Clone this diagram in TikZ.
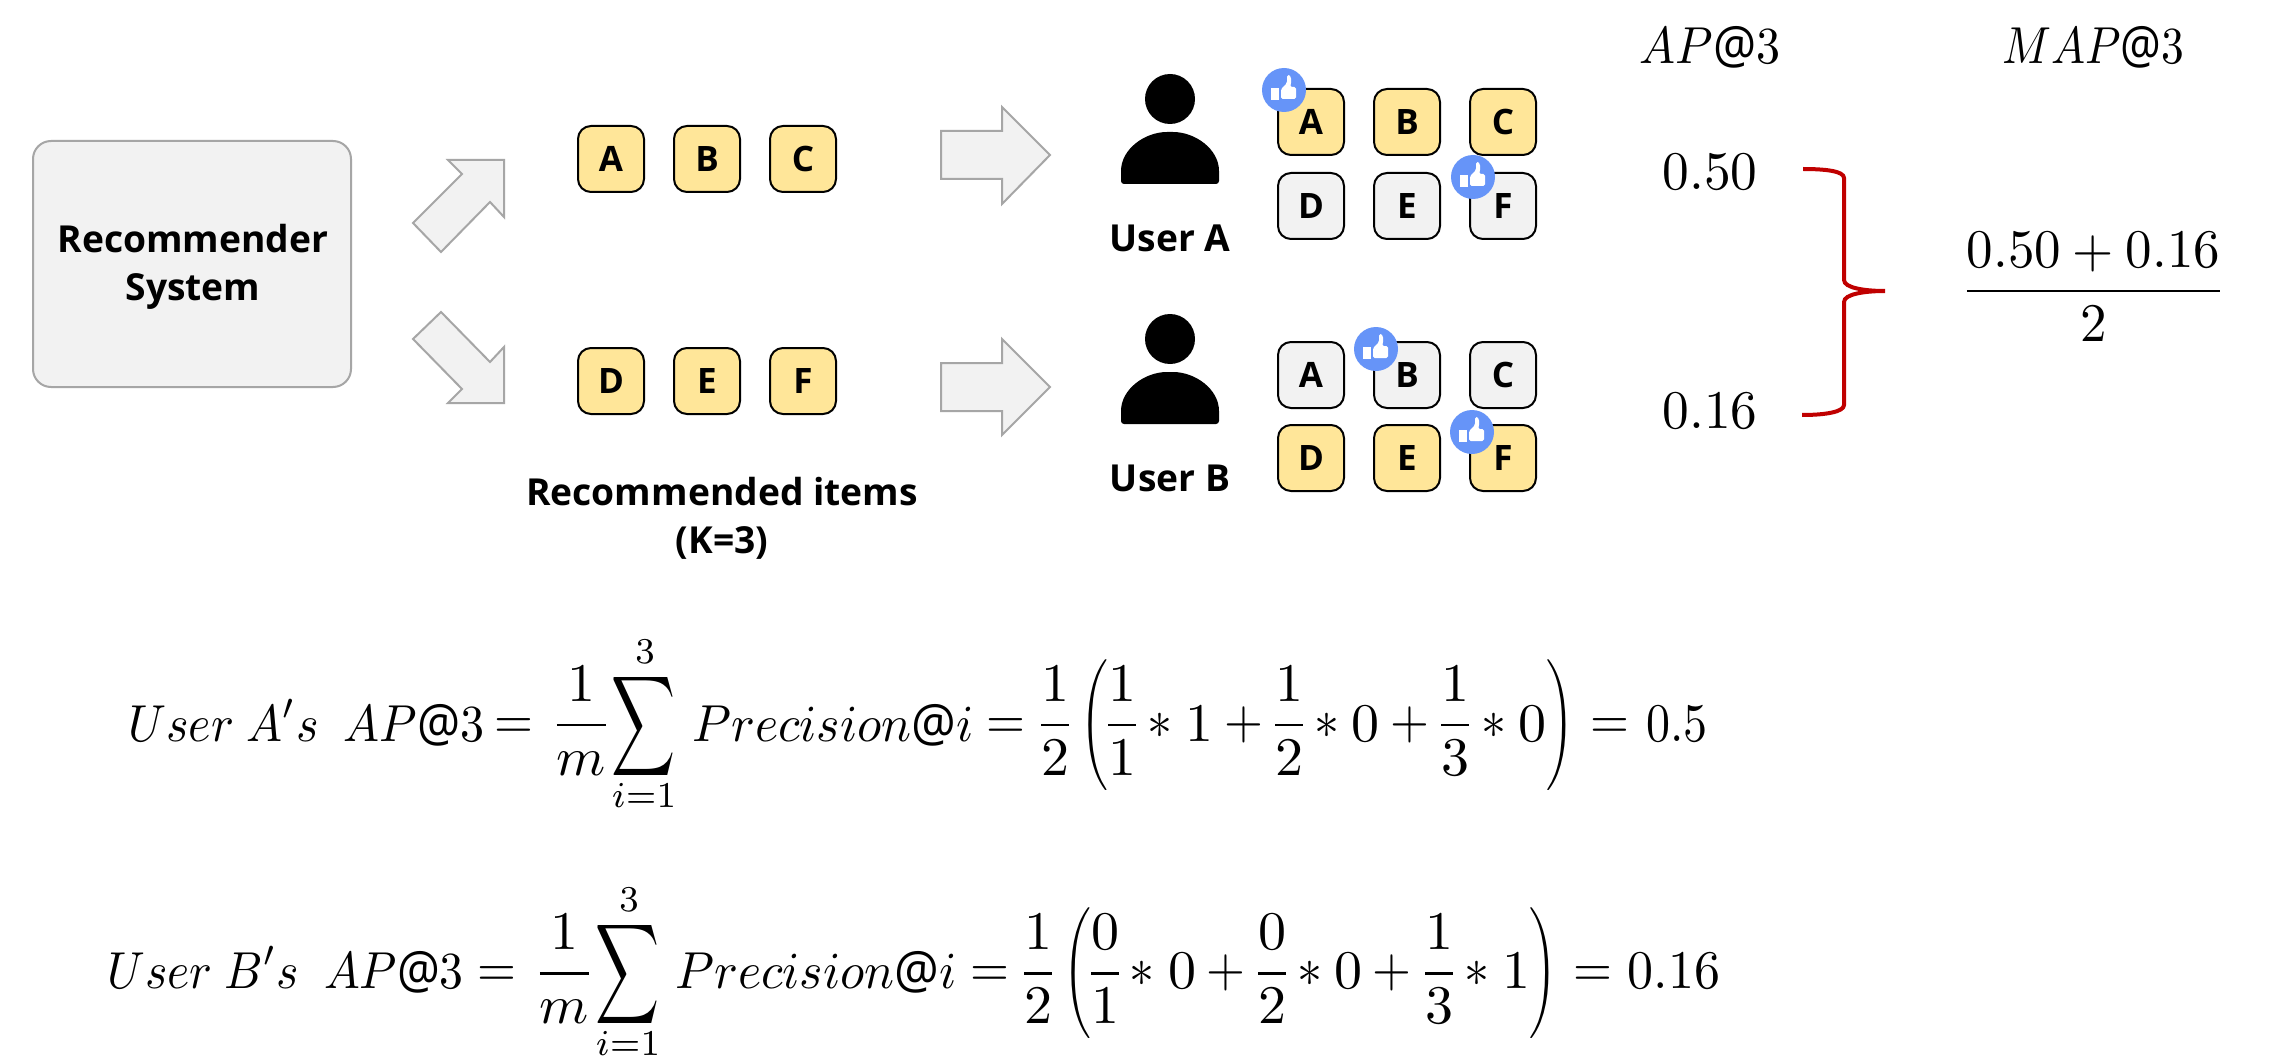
\documentclass[tikz,border=0pt]{standalone}
\usepackage{amsmath}
\usepackage{fontspec}
\setmainfont{Open Sans}
\newcommand{\mx}[3]{\scalebox{#1}[#2]{$\displaystyle\nulldelimiterspace=0pt #3$}}
\newcommand{\fr}[2]{\genfrac{}{}{0.55pt}{0}{#1}{#2}}
\newcommand{\pc}[4]{\node[mathtext,anchor=base] (#1) at (#2,#3) {\mx{2.8}{2.72}{#4}};}
\newcommand{\op}[4]{\node[mathtext,anchor=base] (#1) at (#2,#3) {\mx{2.5}{2.72}{#4}};}
\tikzset{
  x=0.5pt,y=-0.5pt,
  tile/.style={draw=black,line width=1pt,rounded corners=6.5pt,minimum width=33pt,minimum height=33pt,inner sep=0pt,font=\fontsize{17.5}{17.5}\selectfont\bfseries},
  yel/.style={tile,fill=tileyellow},
  gry/.style={tile,fill=tilegray},
  txtlabel/.style={font=\fontsize{18.6}{24}\selectfont\bfseries,align=center,inner sep=0pt},
  blockarrow/.style={draw=arrowgray,fill=tilegray,line width=1pt,line join=miter},
  mathtext/.style={inner sep=0pt},
  likebadge/.pic={
    \fill[likeblue] (0,0) circle[radius=11pt];
    \fill[white] (-13,-2) rectangle (-5,10);
    \fill[white,rounded corners=0.8pt] (-3,-1) -- (3,-7) -- (3,-15) .. controls (7,-15) and (8,-9) .. (6,-3) -- (12,-3) -- (12,9) -- (-3,9) -- cycle;
  },
  person/.pic={
    \fill[black] (0,0) circle[radius=12.5pt];
    \fill[black,rounded corners=1.5pt] (-49,85) -- (-49,75) .. controls (-49,50) and (-25,33) .. (0,33) .. controls (25,33) and (49,50) .. (49,75) -- (49,85) -- cycle;
  }
}
\definecolor{tileyellow}{HTML}{FFE699}
\definecolor{tilegray}{HTML}{F2F2F2}
\definecolor{arrowgray}{HTML}{A6A6A6}
\definecolor{likeblue}{HTML}{6694F8}
\definecolor{bracered}{HTML}{C00000}
\begin{document}
\begin{tikzpicture}
\useasboundingbox (0,0) rectangle (2275,1064);
\fill[white] (0,0) rectangle (2275,1064);
% system box
\node[draw=arrowgray,fill=tilegray,line width=1pt,rounded corners=9pt,minimum width=159pt,minimum height=123pt,inner sep=0pt] (sys) at (192,264) {};
\node[txtlabel] (systext) at (193,267) {Recommender\\System};
% diagonal arrows
\draw[blockarrow] (448,160) -- (504,160) -- (504,217) -- (490,202) -- (441,252) -- (413,223) -- (462,174) -- cycle;
\draw[blockarrow] (448,403) -- (504,403) -- (504,347) -- (490,362) -- (441,312) -- (413,339) -- (462,389) -- cycle;
% recommended rows
\node[yel] (ra) at (611,159) {A};
\node[yel] (rb) at (707,159) {B};
\node[yel] (rc) at (803,159) {C};
\node[yel] (rd) at (611,381) {D};
\node[yel] (re) at (707,381) {E};
\node[yel] (rf) at (803,381) {F};
\node[txtlabel] (rec) at (722,518) {Recommended items\\(K=3)};
% horizontal arrows
\draw[blockarrow] (941,131) -- (1002,131) -- (1002,107) -- (1050,155) -- (1002,204) -- (1002,179) -- (941,179) -- cycle;
\draw[blockarrow] (941,363) -- (1002,363) -- (1002,339) -- (1050,387) -- (1002,435) -- (1002,411) -- (941,411) -- cycle;
% users
\pic at (1170,99) {person};
\pic at (1170,339) {person};
\node[txtlabel] (ua) at (1170,238) {User A};
\node[txtlabel] (ub) at (1170,478) {User B};
% user A tiles
\node[yel] (aa) at (1311,122) {A};
\node[yel] (ab) at (1407,122) {B};
\node[yel] (ac) at (1503,122) {C};
\node[gry] (ad) at (1311,206) {D};
\node[gry] (ae) at (1407,206) {E};
\node[gry] (af) at (1503,206) {F};
% user B tiles
\node[gry] (ba) at (1311,375) {A};
\node[gry] (bb) at (1407,375) {B};
\node[gry] (bc) at (1503,375) {C};
\node[yel] (bd) at (1311,458) {D};
\node[yel] (be) at (1407,458) {E};
\node[yel] (bf) at (1503,458) {F};
% likes
\pic at (1284,90) {likebadge};
\pic at (1473,177) {likebadge};
\pic at (1376,349) {likebadge};
\pic at (1472,432) {likebadge};
% column heads and values
\node[mathtext,anchor=base] (ap) at (1710,64) {\mx{2.4}{2.6}{AP@3}};
\node[mathtext,anchor=base] (map) at (2093,64) {\mx{2.27}{2.6}{MAP@3}};
\node[mathtext,anchor=base] (v1) at (1710,190) {\mx{2.67}{2.72}{0.50}};
\node[mathtext,anchor=base] (v2) at (1710,428) {\mx{2.67}{2.72}{0.16}};
\node[mathtext,anchor=base] (mv) at (2093.5,304.6) {\mx{2.65}{2.72}{\fr{0.50+0.16}{2}}};
% brace
\draw[bracered,line width=2pt] (1803,169) .. controls (1825,169) and (1844,171) .. (1844,178) -- (1844,280) .. controls (1844,288) and (1865,291) .. (1885,291) .. controls (1865,291) and (1844,294) .. (1844,302) -- (1844,405) .. controls (1844,412) and (1825,415) .. (1802,415);
% formula A
\node[mathtext,anchor=base west] (apre) at (128,741) {\mx{2.4}{2.6}{User\ A's\ \ AP@3}};
\op{aeq1}{514}{738.6}{=}
\pc{afm}{581.5}{738.6}{\fr{1}{m}}
\node[mathtext] (asum) at (644,726) {\mx{2.22}{3.5}{\sum}};
\node[mathtext,anchor=base] (asup) at (645,663) {\mx{2.5}{2.6}{\scriptstyle 3}};
\node[mathtext,anchor=base] (asub) at (644,807) {\mx{2.5}{2.6}{\scriptstyle i=1}};
\node[mathtext,anchor=base west] (aprec) at (692,741) {\mx{2.49}{2.6}{Precision@i}};
\op{aeq2}{1006}{738.6}{=}
\pc{afh}{1055}{738.6}{\fr{1}{2}}
\node[mathtext] (alp) at (1094.5,725.5) {\mx{1.75}{2.18}{\Biggl(}};
\pc{af1}{1122}{738.6}{\fr{1}{1}}
\op{ast1}{1160}{738.6}{\ast}
\pc{an1}{1199}{741}{1}
\op{apl1}{1244}{738.6}{+}
\pc{af2}{1289}{738.6}{\fr{1}{2}}
\op{ast2}{1327}{738.6}{\ast}
\pc{an2}{1365}{741}{0}
\op{apl2}{1410}{738.6}{+}
\pc{af3}{1455}{738.6}{\fr{1}{3}}
\op{ast3}{1494}{738.6}{\ast}
\pc{an3}{1532}{741}{0}
\node[mathtext] (arp) at (1560.5,725.5) {\mx{1.75}{2.18}{\Biggr)}};
\op{aeq3}{1610}{738.6}{=}
\node[mathtext,anchor=base] (ares) at (1677,741) {\mx{2.4}{2.72}{0.5}};
% formula B
\node[mathtext,anchor=base west] (bpre) at (107,988) {\mx{2.385}{2.6}{User\ B's\ \ AP@3}};
\op{beq1}{497}{986.6}{=}
\pc{bfm}{564.5}{986.6}{\fr{1}{m}}
\node[mathtext] (bsum) at (628,974) {\mx{2.22}{3.5}{\sum}};
\node[mathtext,anchor=base] (bsup) at (629,911) {\mx{2.5}{2.6}{\scriptstyle 3}};
\node[mathtext,anchor=base] (bsub) at (628,1055) {\mx{2.5}{2.6}{\scriptstyle i=1}};
\node[mathtext,anchor=base west] (bprec) at (675,988) {\mx{2.49}{2.6}{Precision@i}};
\op{beq2}{989.5}{986.6}{=}
\pc{bfh}{1038}{986.6}{\fr{1}{2}}
\node[mathtext] (blp) at (1077.5,973.5) {\mx{1.75}{2.18}{\Biggl(}};
\pc{bf1}{1105}{986.6}{\fr{0}{1}}
\op{bst1}{1142}{986.6}{\ast}
\pc{bn1}{1182}{988}{0}
\op{bpl1}{1226}{986.6}{+}
\pc{bf2}{1272}{986.6}{\fr{0}{2}}
\op{bst2}{1310}{986.6}{\ast}
\pc{bn2}{1348}{988}{0}
\op{bpl2}{1392}{986.6}{+}
\pc{bf3}{1439}{986.6}{\fr{1}{3}}
\op{bst3}{1477}{986.6}{\ast}
\pc{bn3}{1516}{988}{1}
\node[mathtext] (brp) at (1543.5,973.5) {\mx{1.75}{2.18}{\Biggr)}};
\op{beq3}{1593}{986.6}{=}
\node[mathtext,anchor=base] (bres) at (1674,988) {\mx{2.6}{2.72}{0.16}};
\end{tikzpicture}
\end{document}
